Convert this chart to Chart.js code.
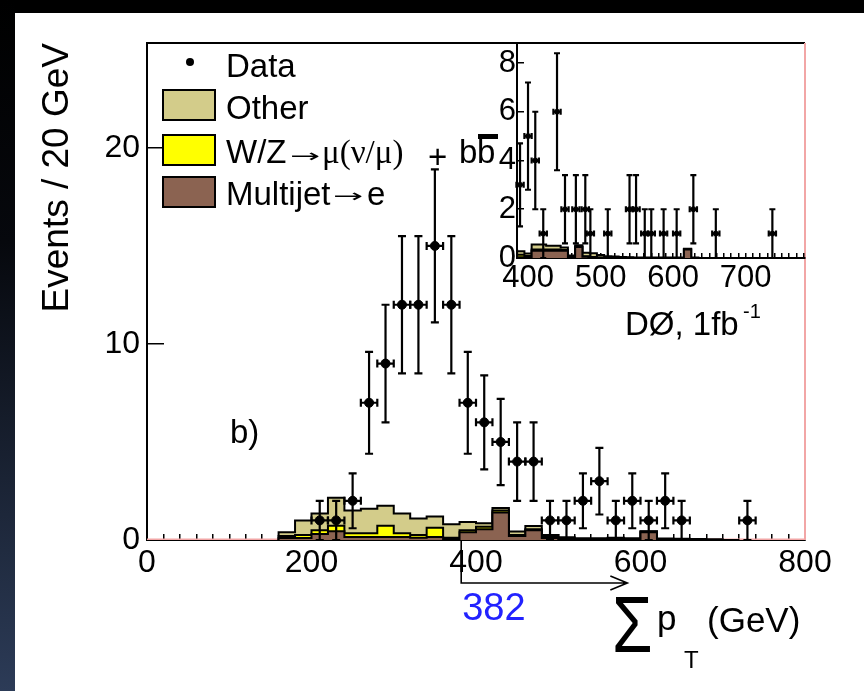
<!DOCTYPE html>
<html>
<head>
<meta charset="utf-8">
<title>Sum pT</title>
<script src="https://cdn.jsdelivr.net/npm/chart.js@4.4.1/dist/chart.umd.min.js"></script>
<style>
  html, body { margin: 0; padding: 0; background: #fff; }
  body { width: 864px; height: 691px; position: relative; overflow: hidden; }
  #topbar { position: absolute; left: 0; top: 0; width: 864px; height: 13px; background: #000; }
  #leftbar { position: absolute; left: 0; top: 0; width: 15px; height: 691px;
             background: linear-gradient(#000 0%, #06080d 35%, #2c3b57 100%); }
  .layer { position: absolute; left: 0; top: 0; width: 864px; height: 691px; }
</style>
</head>
<body>
<div id="topbar"></div>
<div id="leftbar"></div>
<div class="layer"><canvas id="main" width="864" height="691"></canvas></div>
<div class="layer"><canvas id="inset" width="864" height="691"></canvas></div>
<script>
// ── Main plot: data (bin centres in GeV, events per 20 GeV) ──
const dataX   = [210, 230, 250, 270, 290, 310, 330, 350, 370, 390, 410, 430, 450, 470, 490, 510, 530, 550, 570, 590, 610, 630, 650, 730];
const dataY   = [1, 1, 2, 7, 9, 12, 12, 15, 12, 7, 6, 5, 4, 4, 1, 1, 2, 3, 1, 2, 1, 2, 1, 1];
const dataErr = [1, 1, 1.4, 2.6, 3, 3.5, 3.5, 3.9, 3.5, 2.6, 2.4, 2.2, 2, 2, 1, 1, 1.4, 1.7, 1, 1.4, 1, 1.4, 1, 1];

// ── Main plot: background histograms (20 GeV bins) ──
const binEdges = [160, 180, 200, 220, 240, 260, 280, 300, 320, 340, 360, 380, 400, 420, 440,
                  460, 480, 500, 520, 540, 560, 580, 600, 620, 640, 660, 680, 700, 720];
const multijet = [0, 0.1, 0.1, 0.3, 0.45, 0.15, 0.15, 0.15, 0.15, 0.12, 0.15, 0.05, 0.4, 0.55,
                  1.4, 0.2, 0.5, 0.1, 0.05, 0.02, 0.02, 0.04, 0.02, 0.4, 0, 0, 0, 0];
const wzbb     = [0.02, 0.1, 0.16, 0.2, 0.28, 0.2, 0.2, 0.58, 0.2, 0.14, 0.48, 0.07, 0.1, 0.13,
                  0.1, 0.06, 0.05, 0.05, 0.03, 0.01, 0.01, 0.02, 0.01, 0.03, 0.02, 0.01, 0.01, 0];
const other    = [0.08, 0.2, 0.74, 0.85, 1.42, 1.15, 1.25, 1.02, 1.0, 0.84, 0.57, 0.68, 0.42, 0.17,
                  0.13, 0.17, 0.16, 0.11, 0.06, 0.06, 0.06, 0.06, 0.06, 0.02, 0.06, 0.05, 0.04, 0.04];
const signalX  = [0, 800];
const signalY  = [0, 0];

const mainXTicks = [0, 200, 400, 600, 800];
const mainYTicks = [0, 10, 20];
const cutValue = 382;
const arrowEnd = 584;

// ── Inset: events above the cut ──
const insetX   = [389, 400, 410, 421, 440, 451, 466, 479, 486, 510, 540, 549, 561, 570, 587, 605, 628, 659, 737];
const insetY   = [3, 5, 4, 1, 6, 2, 2, 2, 1, 1, 2, 2, 1, 1, 1, 1, 2, 1, 1];
const insetErr = [1.7, 2.2, 2, 1, 2.4, 1.4, 1.4, 1.4, 1, 1, 1.4, 1.4, 1, 1, 1, 1, 1.4, 1, 1];

const insetEdges    = [385, 395, 405, 415, 425, 435, 445, 455, 465, 475, 485, 495, 505, 515,
                       525, 535, 545, 555, 565, 575, 585, 595, 605, 615, 625, 635, 645];
const insetMultijet = [0.03, 0.03, 0.03, 0.3, 0.3, 0.3, 0.3, 0.3, 0.03, 0.45, 0.05, 0.02, 0.01,
                       0.01, 0.01, 0, 0, 0, 0, 0, 0, 0, 0, 0, 0.35, 0];
const insetWzbb     = [0.12, 0.1, 0.05, 0.05, 0.05, 0.05, 0.05, 0.03, 0.02, 0.02, 0.02, 0.02, 0.01,
                       0.01, 0.01, 0.01, 0.01, 0, 0, 0, 0, 0, 0, 0, 0.01, 0];
const insetOther    = [0.2, 0.15, 0.1, 0.2, 0.2, 0.15, 0.15, 0.1, 0.05, 0.05, 0.15, 0.15, 0.1,
                       0.05, 0.04, 0.03, 0.02, 0.02, 0.02, 0.02, 0.02, 0.02, 0.02, 0.02, 0.02, 0.02];

const insetXTicks = [400, 500, 600, 700];

// ── Colours / fonts ──
const COL_OTHER = '#d3cc8a';
const COL_WZ = '#ffff00';
const COL_MJ = '#8b6351';
const COL_PINK = '#f2a6a6';
const SANS = '"Liberation Sans", Arial, Helvetica, sans-serif';
const SERIF = '"Liberation Serif", "Times New Roman", serif';

Chart.defaults.font.family = SANS;
Chart.defaults.color = '#000';

// ── Helpers ──────────────────────────────────────
function stepPoints(edges, vals) {
  const pts = [{ x: edges[0], y: 0 }];
  vals.forEach((v, i) => pts.push({ x: edges[i], y: v }));
  pts.push({ x: edges[edges.length - 1], y: 0 });
  return pts;
}
function addArrays(a, b) { return a.map((v, i) => v + b[i]); }
function histDataset(edges, vals, color, order) {
  return {
    type: 'scatter', showLine: true, stepped: 'after',
    data: stepPoints(edges, vals),
    borderColor: '#000', borderWidth: 2, backgroundColor: color,
    fill: 'origin', pointRadius: 0, order,
  };
}
function pointDataset(xs, ys, errs, xErr, radius, cap) {
  return {
    type: 'scatter',
    data: xs.map((x, i) => ({ x, y: ys[i] })),
    yErr: errs, xErr, capW: cap,
    pointRadius: radius, pointBackgroundColor: '#000', pointBorderColor: '#000', order: 0,
  };
}

// error bars drawn through the chart's own scales
const errorBars = {
  id: 'errorBars',
  afterDatasetsDraw(chart) {
    const { ctx, scales: { x, y } } = chart;
    ctx.save();
    ctx.strokeStyle = '#000';
    ctx.lineWidth = 2.2;
    chart.data.datasets.forEach((ds) => {
      if (!ds.yErr) return;
      const c = ds.capW;
      ds.data.forEach((p, j) => {
        const px = x.getPixelForValue(p.x);
        const py = y.getPixelForValue(p.y);
        const top = y.getPixelForValue(p.y + ds.yErr[j]);
        const bot = y.getPixelForValue(Math.max(0, p.y - ds.yErr[j]));
        const xl = x.getPixelForValue(p.x - ds.xErr);
        const xr = x.getPixelForValue(p.x + ds.xErr);
        ctx.beginPath();
        ctx.moveTo(px, top); ctx.lineTo(px, bot);
        ctx.moveTo(px - c, top); ctx.lineTo(px + c, top);
        ctx.moveTo(px - c, bot); ctx.lineTo(px + c, bot);
        ctx.moveTo(xl, py); ctx.lineTo(xr, py);
        ctx.moveTo(xl, py - c); ctx.lineTo(xl, py + c);
        ctx.moveTo(xr, py - c); ctx.lineTo(xr, py + c);
        ctx.stroke();
      });
    });
    ctx.restore();
  },
};

function smallArrow(ctx, x, y) {
  ctx.save();
  ctx.font = '18px "DejaVu Sans", sans-serif';
  ctx.translate(x, y);
  ctx.scale(2, 1);
  ctx.fillText('\u2192', 0, 0);
  ctx.restore();
}

// legend, labels, frame and cut arrow of the main plot
const mainDecor = {
  id: 'mainDecor',
  afterDraw(chart) {
    const { ctx, chartArea: a, scales: { x } } = chart;
    ctx.save();
    ctx.lineWidth = 2;
    ctx.strokeStyle = '#000';
    ctx.beginPath(); ctx.moveTo(a.left, a.top); ctx.lineTo(a.right, a.top); ctx.stroke();
    ctx.strokeStyle = COL_PINK;
    ctx.beginPath(); ctx.moveTo(a.right, a.top); ctx.lineTo(a.right, a.bottom); ctx.stroke();

    // legend
    ctx.fillStyle = '#000';
    ctx.textBaseline = 'alphabetic';
    ctx.textAlign = 'left';
    ctx.font = '33px ' + SANS;
    ctx.beginPath(); ctx.arc(190, 62, 4, 0, Math.PI * 2); ctx.fill();
    ctx.fillText('Data', 226, 77);
    [[90, COL_OTHER], [135, COL_WZ], [177, COL_MJ]].forEach(([top, col]) => {
      ctx.fillStyle = col;
      ctx.fillRect(163, top, 52, 30);
      ctx.strokeStyle = '#000';
      ctx.lineWidth = 2;
      ctx.strokeRect(163, top, 52, 30);
    });
    ctx.fillStyle = '#000';
    ctx.fillText('Other', 226, 119);
    ctx.fillText('W/Z', 226, 163);
    smallArrow(ctx, 290, 162);
    ctx.font = '33px ' + SERIF;
    ctx.fillText('\u03bc(\u03bd/\u03bc)', 322, 163);
    ctx.font = '33px ' + SANS;
    ctx.fillText('+', 428, 168);
    ctx.fillText('b', 459, 163);
    ctx.fillText('b', 477, 163);
    ctx.fillRect(478, 134, 20, 5);
    ctx.fillText('Multijet', 226, 205);
    smallArrow(ctx, 333, 202);
    ctx.fillText('e', 367, 205);

    // panel label and experiment tag
    ctx.fillText('b)', 230, 443);
    ctx.fillText('D\u00d8, 1fb', 625, 335);
    ctx.font = '20px ' + SANS;
    ctx.fillText('-1', 743, 318);

    // cut arrow
    const cx = x.getPixelForValue(cutValue);
    const ex = x.getPixelForValue(arrowEnd);
    ctx.strokeStyle = '#000';
    ctx.lineWidth = 1.6;
    ctx.beginPath();
    ctx.moveTo(cx, a.bottom); ctx.lineTo(cx, 583); ctx.lineTo(ex, 583);
    ctx.moveTo(ex - 17, 576); ctx.lineTo(ex, 583); ctx.lineTo(ex - 17, 590);
    ctx.stroke();
    ctx.fillStyle = '#2222ff';
    ctx.font = '38px ' + SANS;
    ctx.fillText(String(cutValue), cx + 1, 620);

    // x axis title: sum pT (GeV)
    ctx.fillStyle = '#000';
    ctx.save();
    ctx.translate(612, 652);
    ctx.scale(0.82, 1);
    ctx.font = '80px ' + SANS;
    ctx.fillText('\u03a3', 0, 0);
    ctx.restore();
    ctx.font = '35px ' + SANS;
    ctx.fillText('p', 657, 630);
    ctx.fillText('(GeV)', 707, 632);
    ctx.font = '24px ' + SANS;
    ctx.fillText('T', 684, 668);
    ctx.restore();
  },
};

// ── Main chart ───────────────────────────────────
const mjTop = multijet;
const wzTop = addArrays(multijet, wzbb);
const allTop = addArrays(wzTop, other);

new Chart(document.getElementById('main'), {
  type: 'scatter',
  data: {
    datasets: [
      pointDataset(dataX, dataY, dataErr, 10, 4.5, 4),
      histDataset(binEdges, mjTop, COL_MJ, 1),
      histDataset(binEdges, wzTop, COL_WZ, 2),
      histDataset(binEdges, allTop, COL_OTHER, 3),
      {
        type: 'scatter', showLine: true, order: 4, pointRadius: 0,
        data: signalX.map((x, i) => ({ x, y: signalY[i] })),
        borderColor: COL_PINK, borderWidth: 3,
      },
    ],
  },
  options: {
    responsive: false,
    animation: false,
    events: [],
    layout: { padding: { left: 35, right: 59, top: 43, bottom: 91 } },
    plugins: { legend: { display: false }, tooltip: { enabled: false } },
    scales: {
      x: {
        type: 'linear', min: 0, max: 800, z: 1,
        border: { display: true, color: '#000', width: 2 },
        grid: { drawOnChartArea: false, drawTicks: true, tickLength: -6, color: '#000', lineWidth: 1.5 },
        ticks: {
          stepSize: 20, autoSkip: false, maxRotation: 0, includeBounds: false, padding: 13,
          font: { size: 32, lineHeight: 1 },
          callback: (v) => (mainXTicks.includes(v) ? String(v) : ''),
        },
        afterFit: (s) => { s.height = 60; s.paddingLeft = 0; s.paddingRight = 0; },
      },
      y: {
        type: 'linear', min: 0, max: 25.35, z: 1,
        border: { display: true, color: '#000', width: 2 },
        grid: { drawOnChartArea: false, drawTicks: true, tickLength: -17, color: '#000', lineWidth: 1.5 },
        ticks: {
          stepSize: 10, includeBounds: false, padding: 24,
          font: { size: 32, lineHeight: 1 },
          callback: (v) => (mainYTicks.includes(v) ? String(v) : ''),
        },
        title: {
          display: true, text: 'Events / 20 GeV', align: 'end',
          font: { size: 37, lineHeight: 1 }, padding: { top: 4, bottom: 4 },
        },
        afterFit: (s) => { s.width = 112; s.paddingTop = 0; s.paddingBottom = 0; },
      },
    },
  },
  plugins: [errorBars, mainDecor],
});

// ── Inset chart ──────────────────────────────────
const iMjTop = insetMultijet;
const iWzTop = addArrays(insetMultijet, insetWzbb);
const iAllTop = addArrays(iWzTop, insetOther);

new Chart(document.getElementById('inset'), {
  type: 'scatter',
  data: {
    datasets: [
      pointDataset(insetX, insetY, insetErr, 5, 2.5, 3),
      histDataset(insetEdges, iMjTop, COL_MJ, 1),
      histDataset(insetEdges, iWzTop, COL_WZ, 2),
      histDataset(insetEdges, iAllTop, COL_OTHER, 3),
    ],
  },
  options: {
    responsive: false,
    animation: false,
    events: [],
    layout: { padding: { left: 457, right: 59, top: 43, bottom: 383 } },
    plugins: { legend: { display: false }, tooltip: { enabled: false } },
    scales: {
      x: {
        type: 'linear', min: 384.8, max: 782, z: 1,
        border: { display: true, color: '#000', width: 2 },
        grid: { drawOnChartArea: false, drawTicks: true, tickLength: -5, color: '#000', lineWidth: 1.5 },
        ticks: {
          stepSize: 10, autoSkip: false, maxRotation: 0, includeBounds: false, padding: 9.5,
          font: { size: 31, lineHeight: 1 },
          callback: (v) => (insetXTicks.includes(v) ? String(v) : ''),
        },
        afterFit: (s) => { s.height = 50; s.paddingLeft = 0; s.paddingRight = 0; },
      },
      y: {
        type: 'linear', min: 0, max: 8.82, z: 1,
        border: { display: true, color: '#000', width: 2 },
        grid: { drawOnChartArea: false, drawTicks: true, tickLength: -7, color: '#000', lineWidth: 1.5 },
        ticks: { stepSize: 2, includeBounds: false, padding: 8, font: { size: 31, lineHeight: 1 } },
        afterFit: (s) => { s.width = 60; s.paddingTop = 0; s.paddingBottom = 0; },
      },
    },
  },
  plugins: [errorBars],
});
</script>
</body>
</html>
